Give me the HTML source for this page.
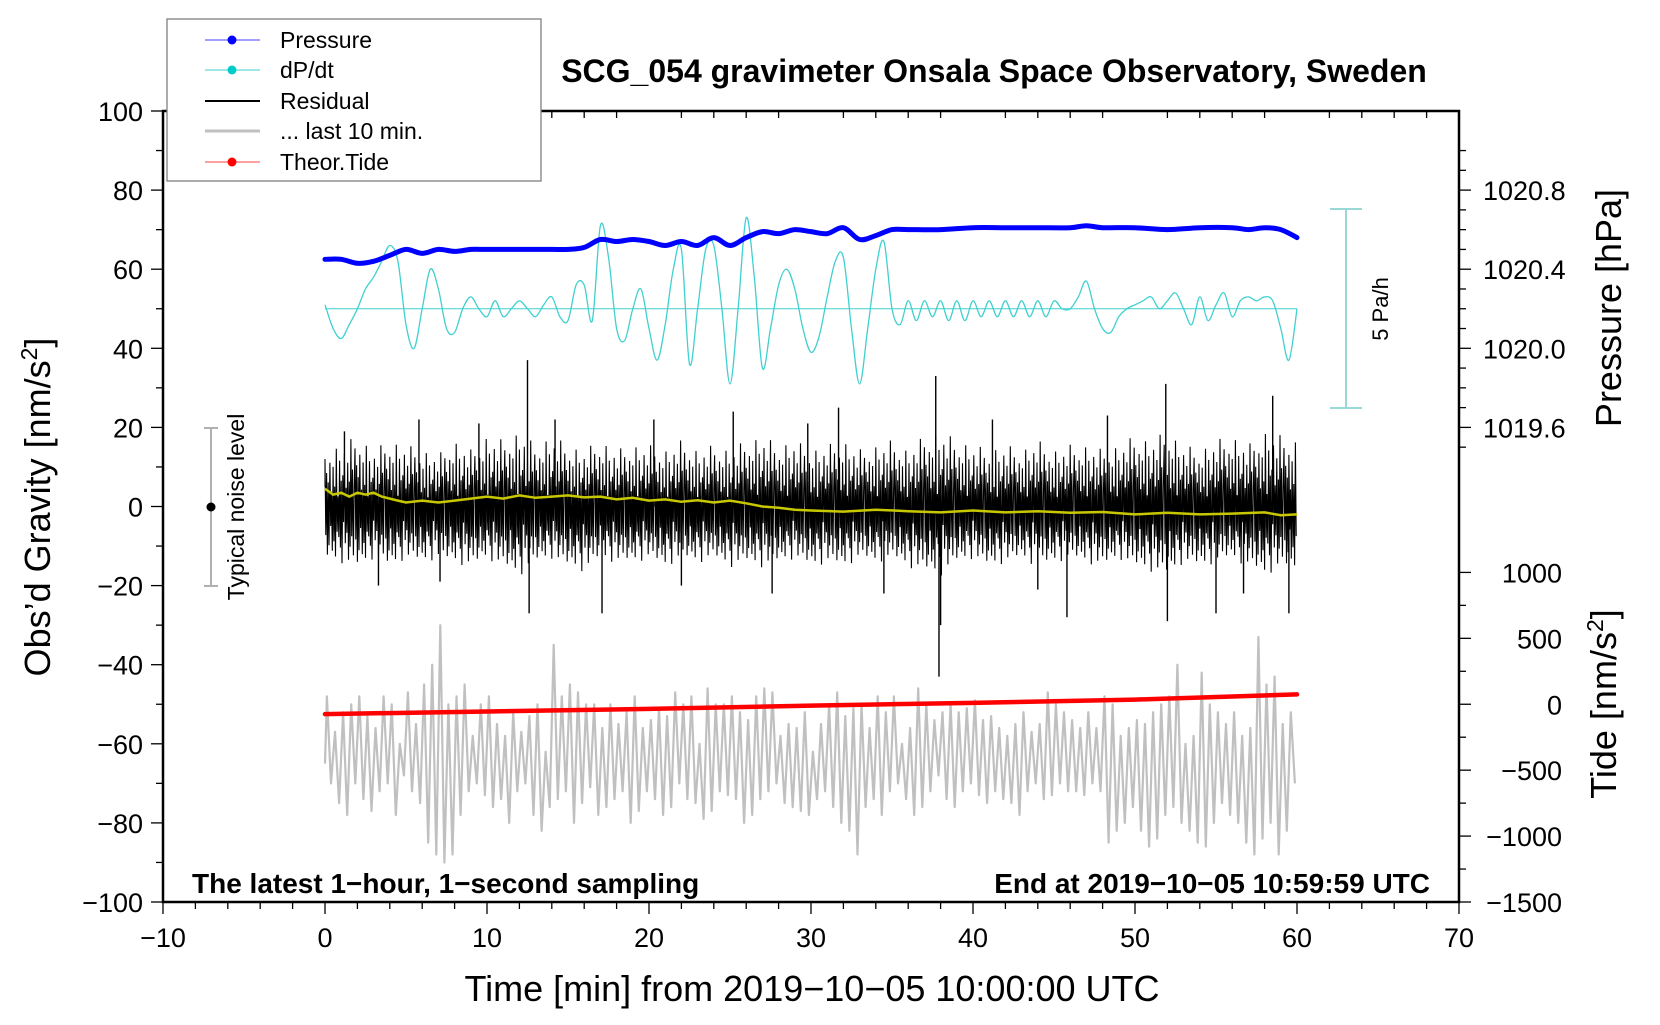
<!DOCTYPE html>
<html><head><meta charset="utf-8"><style>
html,body{margin:0;padding:0;background:#fff}
svg text{font-family:"Liberation Sans",Arial,sans-serif}
</style></head><body>
<svg id="chart" width="1660" height="1020" viewBox="0 0 1660 1020" xmlns="http://www.w3.org/2000/svg">
<g id="marks"></g>
<g id="axes"></g>
</svg>
<script>
// ---- data ----
const pressureTimes = [0,1,2,3,4,5,6,7,8,9,10,12,14,15,16,17,18,19,20,21,22,23,24,25,26,27,28,29,30,31,32,33,34,35,36,38,40,42,44,46,47,48,50,52,54,56,57,58,59,60];
const pressureHpa = [1020.45,1020.45,1020.43,1020.44,1020.47,1020.50,1020.48,1020.50,1020.49,1020.50,1020.50,1020.50,1020.50,1020.50,1020.51,1020.55,1020.54,1020.55,1020.54,1020.52,1020.54,1020.52,1020.56,1020.52,1020.56,1020.59,1020.58,1020.60,1020.59,1020.58,1020.61,1020.55,1020.57,1020.60,1020.60,1020.60,1020.61,1020.61,1020.61,1020.61,1020.62,1020.61,1020.61,1020.60,1020.61,1020.61,1020.60,1020.61,1020.60,1020.56];
const dpdtPaH = [0.1,-0.5,-0.75,-0.4,0,0.5,0.8,1.2,1.6,1.2,-0.4,-1.0,0,1.0,0.5,-0.5,-0.6,0,0.3,0,-0.2,0.2,-0.2,0,0.2,0,-0.2,0.1,0.3,-0.2,-0.3,0.6,0.6,-0.3,2.1,1.3,-0.5,-0.8,0,0.5,-0.5,-1.3,-0.4,1.0,1.5,-1.4,0,1.5,1.6,0,-1.9,0,2.3,0.8,-1.5,-0.5,0.6,1.0,0.5,-0.5,-1.1,-0.7,0.3,1.2,1.3,-0.5,-1.9,-0.5,1.0,1.7,0,-0.4,0.2,-0.3,0.2,-0.2,0.2,-0.3,0.2,-0.3,0.2,-0.2,0.2,-0.2,0.2,-0.2,0.2,-0.2,0.2,-0.2,0.2,0,0,0.3,0.7,0,-0.5,-0.6,-0.2,0,0.1,0.2,0.3,0,0.2,0.4,0,-0.4,0.3,-0.3,0.1,0.4,-0.2,0.2,0.3,0.2,0.3,0.2,-0.5,-1.3,0];
const residualHi = [12,13,15,12,14,13,12,11,14,12,15,14,16,13,15,13,12,14,12,13,13,12,14,12,13,12,14,15,13,14,12,13,14,12,13,14,12,15,16,14,13,12,13,12,14,12,13,13,12,13,15,14,16,13,12,14,15,13,16,15,14];
const residualLo = [-12,-13,-14,-12,-14,-12,-13,-12,-13,-14,-12,-14,-16,-13,-12,-14,-15,-12,-13,-13,-12,-14,-12,-13,-12,-14,-13,-14,-13,-12,-14,-13,-14,-12,-13,-12,-14,-15,-16,-13,-12,-14,-13,-12,-14,-13,-12,-13,-14,-12,-14,-15,-16,-13,-14,-13,-12,-14,-16,-14,-15];
const spikeTimes = [1.2,3.3,5.8,7.1,9.5,12.5,12.6,14.2,17.1,20.3,22.0,25.2,27.6,29.8,31.7,34.5,37.7,37.9,38.0,41.2,44.0,45.8,48.3,51.9,52.0,55.0,56.7,58.5,59.5];
const spikeValues = [19,-20,22,-19,21,37,-27,22,-27,22,-20,24,-22,21,25,-22,33,-43,-30,22,-21,-28,23,31,-29,-27,-22,28,-27];
const meanTimes = [0,0.5,1,1.5,2,2.5,3,3.5,4,4.5,5,6,7,8,9,10,11,12,13,14,15,16,17,18,19,20,21,22,23,24,25,26,27,28,29,30,32,34,36,38,40,42,44,46,48,50,52,54,56,58,59,60];
const meanValues = [4.5,3,3.5,2.5,3.5,3,3.5,2.5,2,1.5,1,1.5,1,1.5,2,2.5,2,2.8,2.2,2.5,2.8,2.3,2.5,1.8,2.2,1.5,1.8,1.2,1.6,1,1.5,0.8,0,-0.3,-0.8,-1,-1.3,-0.8,-1.2,-1.5,-1,-1.5,-1.2,-1.6,-1.4,-2,-1.6,-2,-1.8,-1.5,-2.2,-2];
const grayPeaks = [-48,-57,-52,-50,-48,-53,-56,-48,-50,-60,-47,-55,-45,-40,-30,-50,-48,-45,-58,-50,-48,-55,-58,-52,-57,-53,-50,-62,-35,-48,-45,-47,-50,-50,-56,-50,-55,-52,-48,-56,-54,-51,-53,-47,-50,-48,-60,-46,-50,-50,-48,-52,-54,-48,-46,-47,-58,-55,-56,-52,-62,-55,-50,-47,-53,-51,-50,-56,-48,-52,-48,-60,-56,-46,-50,-54,-52,-50,-52,-51,-49,-54,-53,-56,-58,-55,-52,-57,-55,-47,-50,-52,-54,-56,-52,-56,-48,-50,-58,-56,-54,-55,-52,-50,-48,-40,-60,-58,-42,-50,-52,-55,-52,-58,-56,-33,-45,-43,-55,-52];
const grayTroughs = [-70,-75,-78,-70,-74,-77,-72,-70,-78,-68,-72,-75,-85,-88,-90,-88,-78,-72,-70,-73,-76,-74,-80,-72,-70,-78,-82,-76,-74,-72,-80,-75,-71,-78,-76,-74,-72,-80,-77,-72,-74,-78,-76,-70,-74,-75,-79,-77,-72,-73,-74,-80,-78,-74,-72,-70,-75,-76,-77,-78,-74,-72,-76,-80,-82,-88,-76,-74,-78,-72,-70,-74,-78,-76,-72,-68,-74,-76,-72,-70,-73,-75,-72,-74,-75,-78,-72,-70,-74,-73,-70,-72,-72,-73,-70,-72,-85,-82,-80,-76,-82,-86,-84,-78,-76,-80,-82,-85,-86,-80,-75,-78,-80,-85,-88,-84,-80,-88,-82,-70];
const tideTimes = [0,10,20,30,40,50,60];
const tideValues = [-75,-55,-35,-10,10,35,75];
const xTicks = [-10,0,10,20,30,40,50,60,70];
const yTicks = [100,80,60,40,20,0,-20,-40,-60,-80,-100];
const pTicks = [1019.6,1020.0,1020.4,1020.8];
const tideTicks = [1000,500,0,-500,-1000,-1500];

// ---- scales ----
const X0=163,X1=1459,Y0=111,Y1=902;
const xs=t=>X0+(t+10)/80*(X1-X0);
const ys=v=>Y1-(v+100)/200*(Y1-Y0);
const yp=p=>ys(40+(p-1020)*50);
const yt=t=>ys(-50+t/30);
const yd=d=>ys(50+10*d);
const NS='http://www.w3.org/2000/svg';
const marks=document.getElementById('marks'),axes=document.getElementById('axes');
function mk(tag,attrs,parent){const e=document.createElementNS(NS,tag);for(const k in attrs)e.setAttribute(k,attrs[k]);(parent||marks).appendChild(e);return e;}
function txt(s,attrs,parent){const e=mk('text',attrs,parent);e.textContent=s;return e;}

// gray last-10-min series
let g='';
for(let i=0;i<grayPeaks.length;i++){
  const tp=i*0.5+0.12, tt=i*0.5+0.37;
  if(i===0) g+='M'+xs(0)+','+ys(-65);
  g+='L'+xs(tp).toFixed(1)+','+ys(grayPeaks[i]).toFixed(1)+'L'+xs(Math.min(tt,60)).toFixed(1)+','+ys(grayTroughs[i]).toFixed(1);
}
let el=mk('path',{d:g,fill:'none',stroke:'#c0c0c0','stroke-width':2.2,'stroke-linejoin':'round'});



// tide
let d='';tideTimes.forEach((t,i)=>{d+=(i?'L':'M')+xs(t).toFixed(1)+','+yt(tideValues[i]).toFixed(1);});
el=mk('path',{d:d,fill:'none',stroke:'#ff0000','stroke-width':4.5,'stroke-linecap':'round'});



// residual
const pat=[1,-0.6,0.7,-1,0.5,-0.8,0.9,-0.4,0.3,-0.9,0.8,-0.7,0.4,-1,1.15,-0.5,0.2,-0.6,0.9,-0.8,0.5,-1.1,0.6,-0.3,1,-0.7,0.35,-0.5,0.8,-1,0.45,-0.75,1.2,-0.55,0.65,-0.9,0.3];
let r='M'+xs(0)+','+ys(5);
let kk=0;
for(let m=0;m<60;m++){
  const n=20;
  for(let k=0;k<n;k++,kk++){
    const t=m+k/n, f=pat[kk%pat.length];
    const hi=residualHi[m]+(residualHi[m+1]-residualHi[m])*k/n;
    const lo=residualLo[m]+(residualLo[m+1]-residualLo[m])*k/n;
    const v=f>0?f*hi:-f*lo;
    r+='L'+xs(t).toFixed(1)+','+ys(v).toFixed(1);
  }
}
el=mk('path',{d:r,fill:'none',stroke:'#000','stroke-width':1.1});


spikeTimes.forEach((t,i)=>{
  const s=mk('line',{x1:xs(t),x2:xs(t),y1:ys(0),y2:ys(spikeValues[i]),stroke:'#000','stroke-width':1.4});
  
  
});
// mean
d='';meanTimes.forEach((t,i)=>{d+=(i?'L':'M')+xs(t).toFixed(1)+','+ys(meanValues[i]).toFixed(1);});
el=mk('path',{d:d,fill:'none',stroke:'#c8c800','stroke-width':2.5});



// dP/dt baseline + curve
el=mk('line',{x1:xs(0),x2:xs(60),y1:yd(0),y2:yd(0),stroke:'#40d0d0','stroke-width':1});


const pts=dpdtPaH.map((v,i)=>[xs(i*0.5),yd(v)]);
d='M'+pts[0][0]+','+pts[0][1];
for(let i=0;i<pts.length-1;i++){
  const p0=pts[Math.max(0,i-1)],p1=pts[i],p2=pts[i+1],p3=pts[Math.min(pts.length-1,i+2)];
  d+='C'+(p1[0]+(p2[0]-p0[0])/6).toFixed(1)+','+(p1[1]+(p2[1]-p0[1])/6).toFixed(1)+' '+(p2[0]-(p3[0]-p1[0])/6).toFixed(1)+','+(p2[1]-(p3[1]-p1[1])/6).toFixed(1)+' '+p2[0].toFixed(1)+','+p2[1].toFixed(1);
}
el=mk('path',{d:d,fill:'none',stroke:'#40d0d0','stroke-width':1.3});



// pressure
const pp=pressureTimes.map((t,i)=>[xs(t),yp(pressureHpa[i])]);
d='M'+pp[0][0]+','+pp[0][1];
for(let i=0;i<pp.length-1;i++){
  const p0=pp[Math.max(0,i-1)],p1=pp[i],p2=pp[i+1],p3=pp[Math.min(pp.length-1,i+2)];
  d+='C'+(p1[0]+(p2[0]-p0[0])/6).toFixed(1)+','+(p1[1]+(p2[1]-p0[1])/6).toFixed(1)+' '+(p2[0]-(p3[0]-p1[0])/6).toFixed(1)+','+(p2[1]-(p3[1]-p1[1])/6).toFixed(1)+' '+p2[0].toFixed(1)+','+p2[1].toFixed(1);
}
el=mk('path',{d:d,fill:'none',stroke:'#0000ff','stroke-width':5,'stroke-linecap':'round'});



// ---- axes ----
el=mk('rect',{x:X0,y:Y0,width:X1-X0,height:Y1-Y0,fill:'none',stroke:'#000','stroke-width':2.5},axes);


for(let t=-10;t<=70;t+=2){
  const maj=t%10===0,L=maj?12:7;
  mk('line',{x1:xs(t),x2:xs(t),y1:Y1,y2:Y1+L,stroke:'#000','stroke-width':1.3},axes);
  mk('line',{x1:xs(t),x2:xs(t),y1:Y0,y2:Y0+(maj?0:7),stroke:'#000','stroke-width':1.3},axes);
}
xTicks.forEach(t=>{el=txt(String(t).replace('-','\u2212'),{x:xs(t),y:Y1+45,'font-size':27,'text-anchor':'middle'},axes);

});
for(let v=-100;v<=100;v+=10){mk('line',{x1:X0-(v%20===0?12:7),x2:X0,y1:ys(v),y2:ys(v),stroke:'#000','stroke-width':1.3},axes);}
yTicks.forEach(v=>{el=txt(String(v).replace('-','\u2212'),{x:X0-20,y:ys(v)+10,'font-size':27,'text-anchor':'end'},axes);

});
for(let p=1019.5;p<=1021.01;p+=0.1){const y=yp(p);if(y<Y0)continue;const maj=Math.abs(Math.round(p*10)%4)===0;mk('line',{x1:X1,x2:X1+(maj?12:7),y1:y,y2:y,stroke:'#000','stroke-width':1.3},axes);}
pTicks.forEach(p=>{el=txt(p.toFixed(1),{x:X1+24,y:yp(p)+10,'font-size':27},axes);

});
for(let t=-1500;t<=1000;t+=250){mk('line',{x1:X1,x2:X1+(t%500===0?12:7),y1:yt(t),y2:yt(t),stroke:'#000','stroke-width':1.3},axes);}
tideTicks.forEach(t=>{el=txt(String(t).replace('-','\u2212'),{x:1562,y:yt(t)+10,'font-size':27,'text-anchor':'end'},axes);

});
</script>
<svg style="position:absolute;left:0;top:0" width="1660" height="1020">
<text x="994" y="82" font-size="32" font-weight="bold" text-anchor="middle" font-family="Liberation Sans, sans-serif">SCG_054 gravimeter Onsala Space Observatory, Sweden</text>
<text x="812" y="1001" font-size="36" text-anchor="middle" font-family="Liberation Sans, sans-serif">Time [min] from 2019−10−05 10:00:00 UTC</text>
<text transform="translate(50,507) rotate(-90)" font-size="36" text-anchor="middle" font-family="Liberation Sans, sans-serif">Obs’d Gravity [nm/s<tspan baseline-shift="super" font-size="23">2</tspan>]</text>
<text transform="translate(1621,308) rotate(-90)" font-size="36" text-anchor="middle" font-family="Liberation Sans, sans-serif">Pressure [hPa]</text>
<text transform="translate(1616,704) rotate(-90)" font-size="36" text-anchor="middle" font-family="Liberation Sans, sans-serif">Tide [nm/s<tspan baseline-shift="super" font-size="23">2</tspan>]</text>
<text x="192" y="893" font-size="28" font-weight="bold" font-family="Liberation Sans, sans-serif">The latest 1−hour, 1−second sampling</text>
<text x="1430" y="893" font-size="28" font-weight="bold" text-anchor="end" font-family="Liberation Sans, sans-serif">End at 2019−10−05 10:59:59 UTC</text>
<g stroke="#b0b0b0" stroke-width="2">
<line x1="211" x2="211" y1="428" y2="586"/><line x1="204" x2="218" y1="428" y2="428"/><line x1="204" x2="218" y1="586" y2="586"/>
</g>
<circle cx="211" cy="507" r="4.5" fill="#000"/>
<text transform="translate(244,507) rotate(-90)" font-size="23" text-anchor="middle" font-family="Liberation Sans, sans-serif">Typical noise level</text>
<g stroke="#9ad8d8" stroke-width="2">
<line x1="1346" x2="1346" y1="209" y2="408"/><line x1="1330" x2="1362" y1="209" y2="209"/><line x1="1330" x2="1362" y1="408" y2="408"/>
</g>
<text transform="translate(1388,309) rotate(-90)" font-size="22" text-anchor="middle" font-family="Liberation Sans, sans-serif">5 Pa/h</text>
<g font-family="Liberation Sans, sans-serif" font-size="23">
<rect x="167" y="19" width="374" height="162" fill="#fff" stroke="#808080" stroke-width="1.3"/>
<line x1="205" x2="260" y1="40" y2="40" stroke="#4040ff" stroke-width="1"/><circle cx="232" cy="40" r="4.5" fill="#0000ff"/>
<text x="280" y="48">Pressure</text>
<line x1="205" x2="260" y1="70" y2="70" stroke="#40d0d0" stroke-width="1"/><circle cx="232" cy="70" r="4.5" fill="#00cccc"/>
<text x="280" y="78">dP/dt</text>
<line x1="205" x2="260" y1="101" y2="101" stroke="#000" stroke-width="2"/>
<text x="280" y="109">Residual</text>
<line x1="205" x2="260" y1="131" y2="131" stroke="#c0c0c0" stroke-width="3"/>
<text x="280" y="139">... last 10 min.</text>
<line x1="205" x2="260" y1="162" y2="162" stroke="#ff4040" stroke-width="1"/><circle cx="232" cy="162" r="4.5" fill="#ff0000"/>
<text x="280" y="170">Theor.Tide</text>
</g>
</svg>
</body></html>
